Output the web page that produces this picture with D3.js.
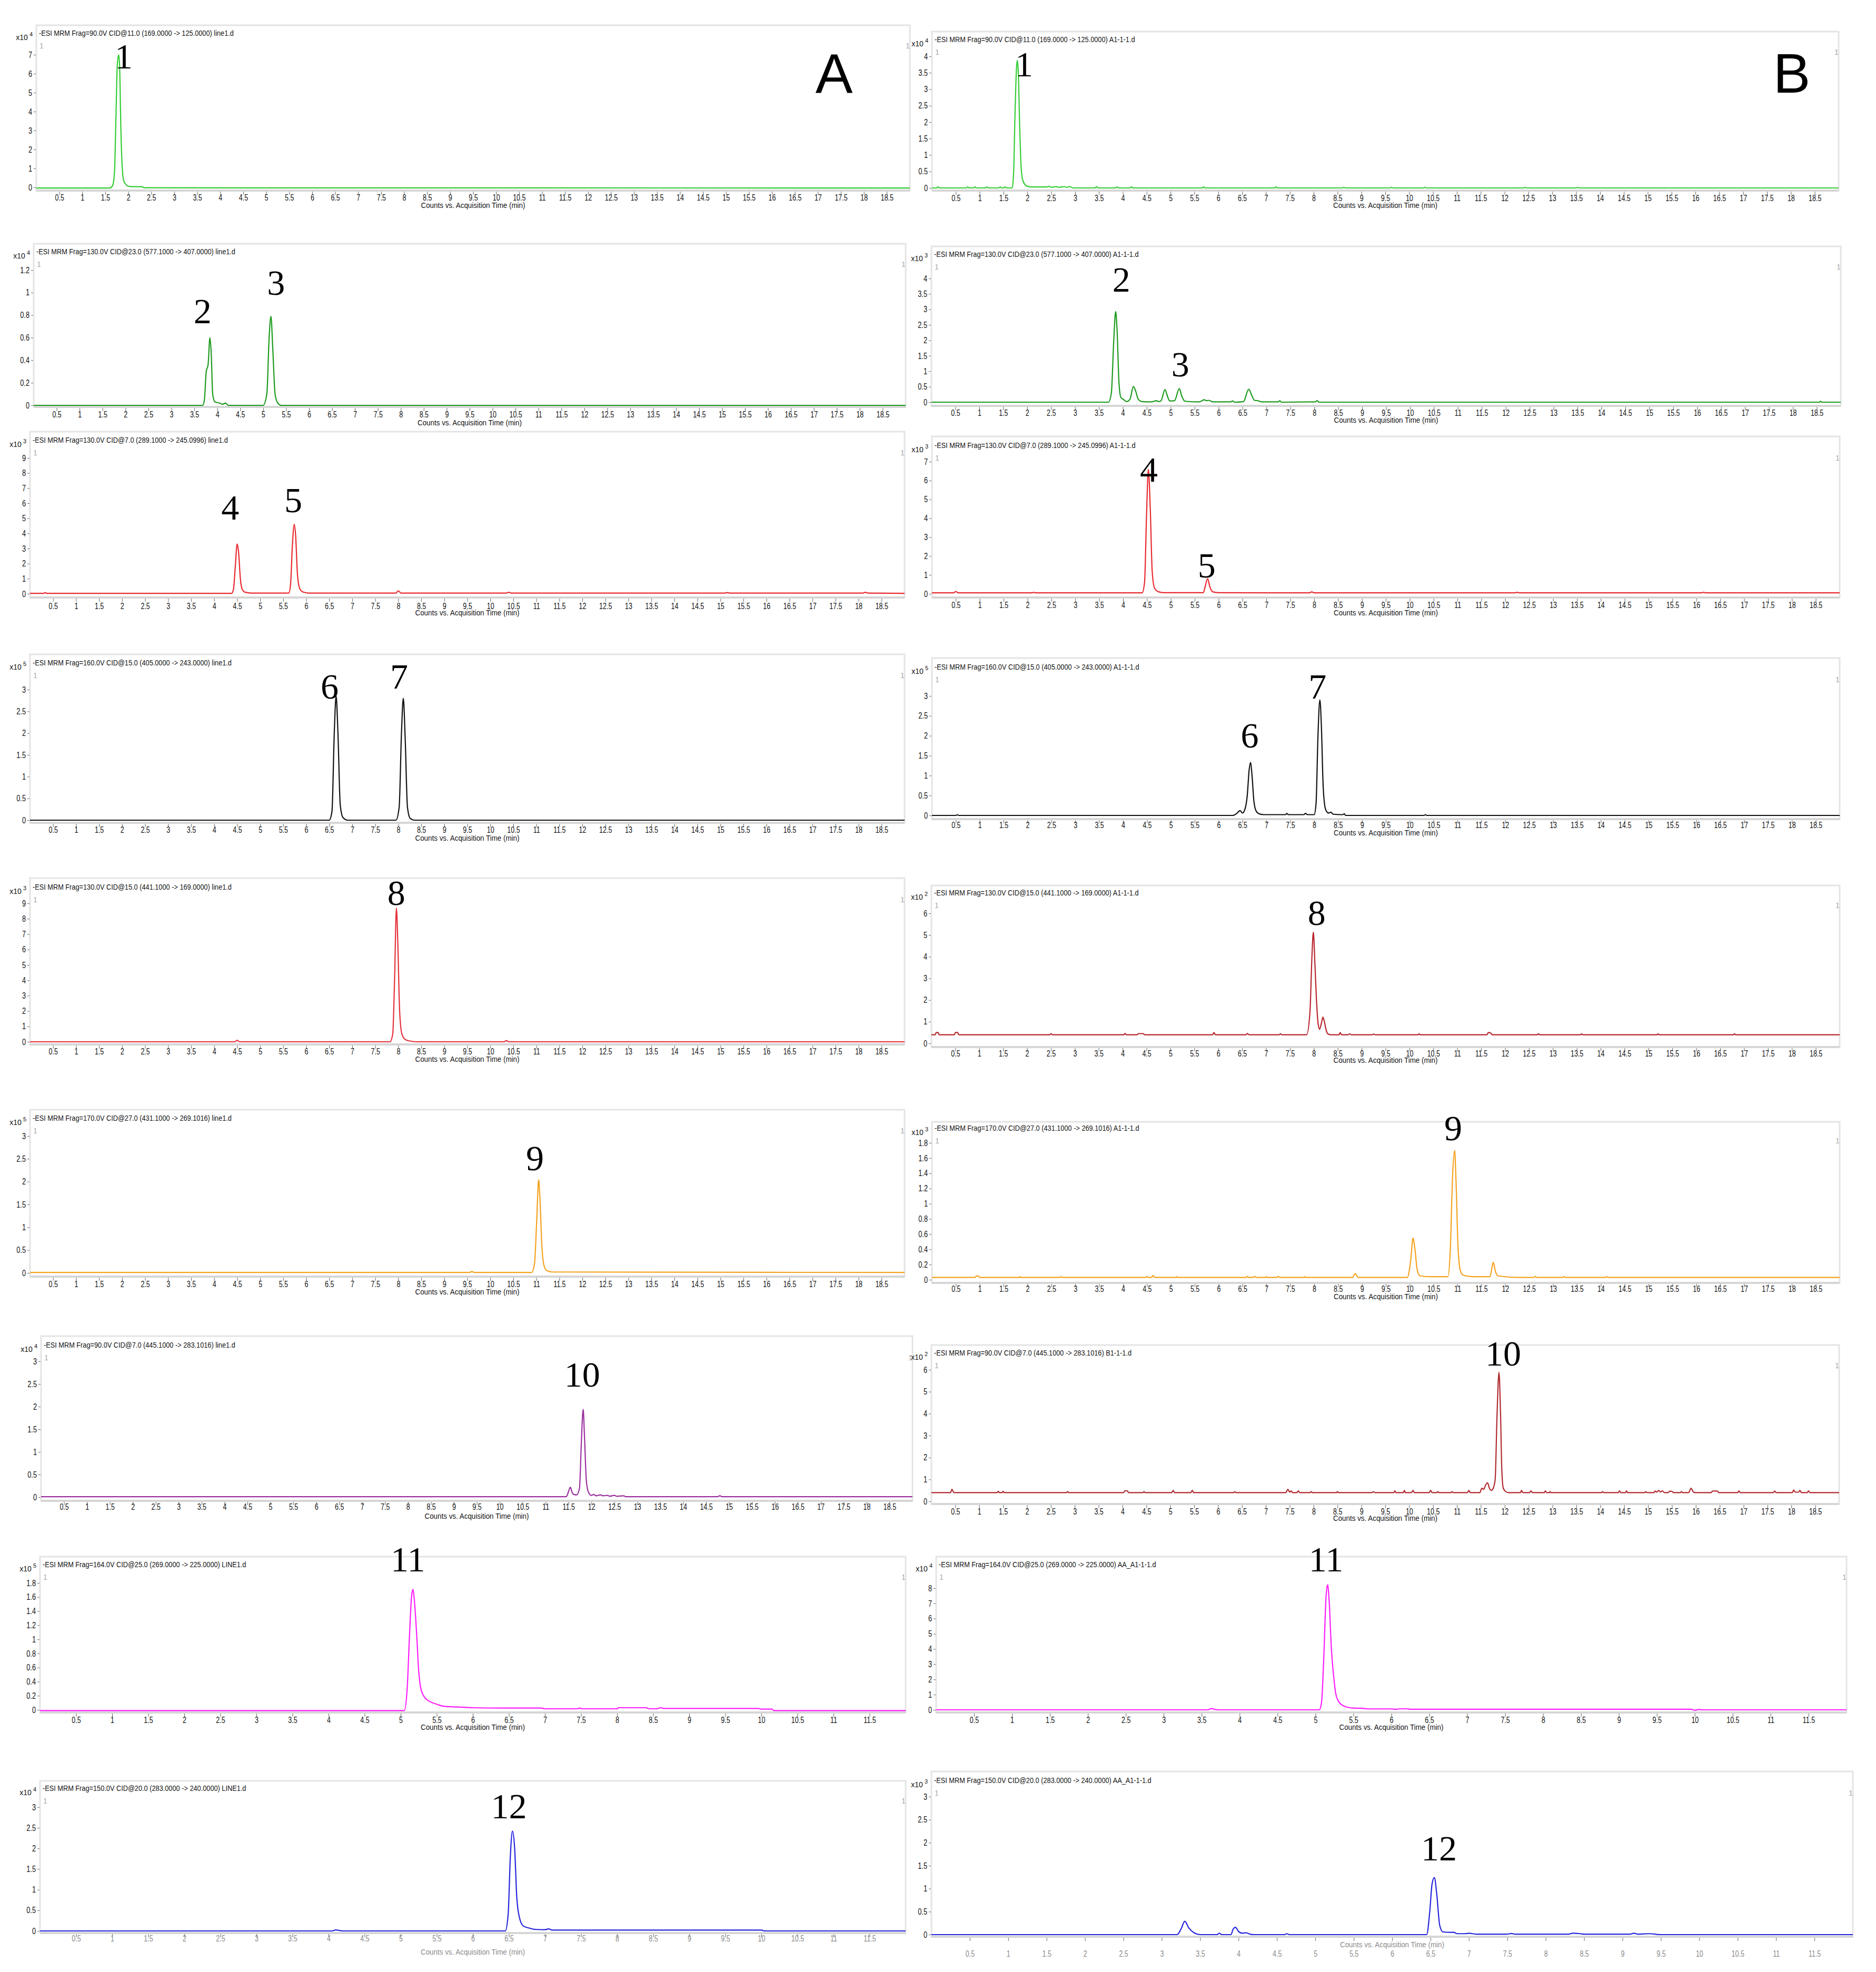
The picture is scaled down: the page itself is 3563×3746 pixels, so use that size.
<!DOCTYPE html>
<html>
<head>
<meta charset="utf-8">
<script src="https://cdn.jsdelivr.net/npm/d3@7"></script>
<style>
  body { margin: 0; background: #fff; }
</style>
</head>
<body>
<script>
// ---------- data ----------
const panelIds = ["A1","B1","A2","B2","A3","B3","A4","B4","A5","B5","A6","B6","A7","B7","A8","B8","A9","B9"];

const headers = [
  "-ESI MRM Frag=90.0V CID@11.0 (169.0000 -> 125.0000) line1.d",
  "-ESI MRM Frag=90.0V CID@11.0 (169.0000 -> 125.0000) A1-1-1.d",
  "-ESI MRM Frag=130.0V CID@23.0 (577.1000 -> 407.0000) line1.d",
  "-ESI MRM Frag=130.0V CID@23.0 (577.1000 -> 407.0000) A1-1-1.d",
  "-ESI MRM Frag=130.0V CID@7.0 (289.1000 -> 245.0996) line1.d",
  "-ESI MRM Frag=130.0V CID@7.0 (289.1000 -> 245.0996) A1-1-1.d",
  "-ESI MRM Frag=160.0V CID@15.0 (405.0000 -> 243.0000) line1.d",
  "-ESI MRM Frag=160.0V CID@15.0 (405.0000 -> 243.0000) A1-1-1.d",
  "-ESI MRM Frag=130.0V CID@15.0 (441.1000 -> 169.0000) line1.d",
  "-ESI MRM Frag=130.0V CID@15.0 (441.1000 -> 169.0000) A1-1-1.d",
  "-ESI MRM Frag=170.0V CID@27.0 (431.1000 -> 269.1016) line1.d",
  "-ESI MRM Frag=170.0V CID@27.0 (431.1000 -> 269.1016) A1-1-1.d",
  "-ESI MRM Frag=90.0V CID@7.0 (445.1000 -> 283.1016) line1.d",
  "-ESI MRM Frag=90.0V CID@7.0 (445.1000 -> 283.1016) B1-1-1.d",
  "-ESI MRM Frag=164.0V CID@25.0 (269.0000 -> 225.0000) LINE1.d",
  "-ESI MRM Frag=164.0V CID@25.0 (269.0000 -> 225.0000) AA_A1-1-1.d",
  "-ESI MRM Frag=150.0V CID@20.0 (283.0000 -> 240.0000) LINE1.d",
  "-ESI MRM Frag=150.0V CID@20.0 (283.0000 -> 240.0000) AA_A1-1-1.d"
];

const exponents = [4,4,4,3,3,3,5,5,3,2,5,3,4,2,5,4,4,3];
const xMaxes = [19,19,19,19,19,19,19,19,19,19,19,19,19,19,12,12,12,12];
const xTitle = "Counts vs. Acquisition Time (min)";

const xTicks19 = [0.5,1,1.5,2,2.5,3,3.5,4,4.5,5,5.5,6,6.5,7,7.5,8,8.5,9,9.5,10,10.5,11,11.5,12,12.5,13,13.5,14,14.5,15,15.5,16,16.5,17,17.5,18,18.5];
const xTicks12 = [0.5,1,1.5,2,2.5,3,3.5,4,4.5,5,5.5,6,6.5,7,7.5,8,8.5,9,9.5,10,10.5,11,11.5];

const yT7 = [0,1,2,3,4,5,6,7];
const yT4h = [0,0.5,1,1.5,2,2.5,3,3.5,4];
const yT12 = [0,0.2,0.4,0.6,0.8,1,1.2];
const yT9 = [0,1,2,3,4,5,6,7,8,9];
const yT3h = [0,0.5,1,1.5,2,2.5,3];
const yT6 = [0,1,2,3,4,5,6];
const yT18 = [0,0.2,0.4,0.6,0.8,1,1.2,1.4,1.6,1.8];
const yT8 = [0,1,2,3,4,5,6,7,8];
const yTickSets = [yT7,yT4h,yT12,yT4h,yT9,yT7,yT3h,yT3h,yT9,yT6,yT3h,yT18,yT3h,yT6,yT18,yT8,yT3h,yT3h];

// traces: [time (min), counts in panel units]
const traceA1 = [[0,-0.03],[1.6,-0.03],[1.66,0.1],[1.7,0.8],[1.73,3.5],[1.76,6.4],[1.79,7.0],[1.81,6.5],[1.84,3.0],[1.87,1.0],[1.9,0.35],[1.95,0.15],[2.0,0.06],[2.1,0.04],[2.3,0.04],[2.34,-0.02],[19,-0.03]];
const traceB1 = [[0,0],[0.1,0],[0.13,0.03],[0.16,0],[0.72,0],[0.75,0.03],[0.78,0],[0.87,0],[0.9,0.03],[0.93,0],[1.12,0],[1.15,0.03],[1.18,0],[1.4,0],[1.43,0.03],[1.46,0],[1.5,0],[1.53,0.03],[1.56,0],[1.68,0],[1.71,0.4],[1.74,2.2],[1.77,3.6],[1.79,3.88],[1.81,3.5],[1.84,1.8],[1.87,0.6],[1.9,0.25],[1.95,0.1],[2.0,0.05],[2.1,0.03],[2.4,0.03],[2.45,0.05],[2.5,0.02],[2.6,0.04],[2.65,0.02],[2.78,0.04],[2.82,0.02],[2.9,0.04],[2.95,0],[3.42,0],[3.45,0.04],[3.48,0],[3.85,0],[3.88,0.03],[3.91,0],[4.15,0],[4.18,0.03],[4.21,0],[5.66,0],[5.69,0.03],[5.72,0],[7.18,0],[7.21,0.03],[7.24,0],[8.6,0],[8.63,0.02],[8.66,0],[9.6,0],[9.63,0.02],[9.66,0],[10.3,0],[10.33,0.02],[10.36,0],[12.4,0],[12.43,0.02],[12.46,0],[13.5,0],[13.53,0.02],[13.56,0],[19,0]];
const traceA2 = [[0,0],[3.68,0],[3.72,0.05],[3.76,0.3],[3.8,0.36],[3.84,0.6],[3.87,0.45],[3.9,0.1],[3.95,0.03],[4.05,0.02],[4.12,0.01],[4.18,0.02],[4.24,0],[5.0,0],[5.08,0.1],[5.13,0.6],[5.17,0.79],[5.21,0.5],[5.26,0.1],[5.32,0.02],[5.4,0],[19,0]];
const traceB2 = [[0,0],[3.7,0],[3.76,0.3],[3.81,2.0],[3.85,2.93],[3.88,2.3],[3.92,0.6],[3.96,0.15],[4.02,0.08],[4.08,0.02],[4.15,0.1],[4.22,0.51],[4.27,0.35],[4.32,0.1],[4.4,0.02],[4.6,0.01],[4.7,0.05],[4.75,0.02],[4.8,0.05],[4.88,0.41],[4.93,0.2],[4.98,0.04],[5.08,0.05],[5.18,0.44],[5.23,0.2],[5.3,0.03],[5.6,0.01],[5.7,0.08],[5.75,0.05],[5.8,0.06],[5.88,0.01],[6.25,0.01],[6.3,0.04],[6.33,0],[6.52,0.02],[6.63,0.42],[6.7,0.2],[6.75,0.06],[6.82,0.05],[6.9,0.01],[7.25,0.01],[7.28,0.05],[7.31,0],[8.02,0.01],[8.06,0.05],[8.1,0],[18.55,0],[18.58,0.03],[18.6,0],[19,0]];
const traceA3 = [[0,0.03],[0.3,0.03],[0.33,0.08],[0.36,0.03],[4.38,0.03],[4.42,0.3],[4.46,1.8],[4.5,3.3],[4.53,2.8],[4.57,1.0],[4.61,0.3],[4.68,0.1],[4.8,0.05],[5.62,0.05],[5.66,0.6],[5.7,3.2],[5.74,4.6],[5.77,3.9],[5.81,1.3],[5.86,0.35],[5.93,0.12],[6.05,0.05],[7.95,0.05],[8.0,0.2],[8.06,0.05],[10.35,0.05],[10.4,0.1],[10.45,0.05],[15.1,0.05],[15.15,0.08],[15.2,0.05],[18.1,0.05],[18.15,0.1],[18.2,0.05],[19,0.03]];
const traceB3 = [[0,0.05],[0.45,0.05],[0.5,0.12],[0.55,0.05],[2.1,0.05],[2.13,0.08],[2.16,0.05],[4.4,0.05],[4.45,0.6],[4.49,4.0],[4.53,6.6],[4.57,4.5],[4.61,1.2],[4.66,0.3],[4.75,0.1],[4.85,0.06],[5.68,0.06],[5.72,0.4],[5.77,0.8],[5.82,0.35],[5.88,0.1],[6.0,0.06],[7.9,0.05],[7.95,0.1],[8.0,0.05],[12.2,0.05],[12.25,0.08],[12.3,0.05],[16.1,0.05],[16.15,0.08],[16.2,0.05],[19,0.05]];
const traceA4 = [[0,0],[6.5,0],[6.56,0.2],[6.61,2.0],[6.65,2.85],[6.69,2.0],[6.74,0.35],[6.8,0.06],[6.9,0],[7.95,0],[8.02,0.3],[8.07,2.0],[8.11,2.8],[8.15,1.9],[8.2,0.3],[8.26,0.04],[8.35,0],[19,0]];
const traceB4 = [[0,0],[0.5,0],[0.53,0.02],[0.56,0],[6.3,0],[6.38,0.05],[6.45,0.12],[6.5,0.06],[6.55,0.15],[6.6,0.5],[6.64,1.15],[6.67,1.33],[6.7,1.0],[6.74,0.35],[6.79,0.1],[6.85,0.04],[6.95,0.02],[7.4,0.02],[7.43,0.05],[7.46,0.02],[7.78,0.02],[7.82,0.05],[7.86,0.02],[8.0,0.02],[8.04,0.3],[8.08,2.0],[8.12,2.9],[8.15,2.3],[8.19,0.7],[8.24,0.15],[8.3,0.06],[8.35,0.08],[8.4,0.03],[8.6,0.02],[8.63,0.04],[8.66,0],[10.3,0],[10.33,0.02],[10.36,0],[19,0]];
const traceA5 = [[0,0],[4.45,0],[4.5,0.1],[4.55,0],[7.82,0],[7.88,0.5],[7.92,4.0],[7.96,8.7],[7.99,6.5],[8.03,2.0],[8.08,0.5],[8.15,0.15],[8.25,0.05],[8.4,0],[10.3,0],[10.35,0.08],[10.4,0],[19,0]];
const traceB5 = [[0,0.4],[0.08,0.4],[0.1,0.5],[0.14,0.5],[0.16,0.4],[0.48,0.4],[0.5,0.5],[0.55,0.5],[0.57,0.4],[2.48,0.4],[2.5,0.45],[2.53,0.4],[4.03,0.4],[4.05,0.46],[4.08,0.4],[4.3,0.4],[4.33,0.45],[4.38,0.45],[4.43,0.45],[4.46,0.4],[5.88,0.4],[5.91,0.5],[5.94,0.4],[6.58,0.4],[6.61,0.46],[6.64,0.4],[7.28,0.4],[7.3,0.44],[7.33,0.4],[7.85,0.4],[7.92,1.5],[7.96,4.0],[7.99,5.13],[8.02,3.8],[8.06,1.8],[8.09,0.9],[8.12,0.65],[8.16,0.95],[8.19,1.21],[8.22,1.0],[8.26,0.6],[8.3,0.43],[8.35,0.4],[8.53,0.4],[8.55,0.5],[8.58,0.4],[8.72,0.4],[8.75,0.44],[8.78,0.4],[9.22,0.4],[9.25,0.43],[9.28,0.4],[10.18,0.4],[10.2,0.45],[10.22,0.4],[11.62,0.4],[11.65,0.5],[11.7,0.48],[11.73,0.4],[12.68,0.4],[12.7,0.45],[12.72,0.4],[13.58,0.4],[13.6,0.44],[13.62,0.4],[15.18,0.4],[15.2,0.44],[15.22,0.4],[16.78,0.4],[16.8,0.44],[16.82,0.4],[19,0.4]];
const traceA6 = [[0,0.01],[9.55,0.01],[9.6,0.03],[9.65,0.01],[10.9,0.01],[10.96,0.2],[11.01,1.2],[11.05,2.04],[11.08,1.6],[11.12,0.6],[11.17,0.15],[11.23,0.05],[11.35,0.02],[19,0.01]];
const traceB6 = [[0,0.03],[0.9,0.03],[0.93,0.05],[0.97,0.05],[1.0,0.03],[1.83,0.03],[1.85,0.04],[1.87,0.03],[2.68,0.03],[2.7,0.04],[2.73,0.03],[4.48,0.03],[4.5,0.045],[4.53,0.03],[4.6,0.03],[4.63,0.055],[4.67,0.03],[5.1,0.03],[5.12,0.04],[5.14,0.03],[6.58,0.03],[6.6,0.045],[6.63,0.03],[6.72,0.03],[6.75,0.045],[6.78,0.03],[6.98,0.03],[7.0,0.04],[7.02,0.03],[7.22,0.03],[7.25,0.045],[7.28,0.03],[7.78,0.03],[7.8,0.04],[7.82,0.03],[8.8,0.03],[8.86,0.08],[8.92,0.03],[9.95,0.03],[10.02,0.25],[10.07,0.55],[10.11,0.4],[10.16,0.12],[10.22,0.05],[10.4,0.04],[10.8,0.04],[10.85,0.4],[10.9,1.4],[10.94,1.7],[10.97,1.3],[11.01,0.45],[11.06,0.12],[11.12,0.06],[11.3,0.04],[11.68,0.04],[11.72,0.15],[11.75,0.23],[11.79,0.12],[11.85,0.05],[12.3,0.03],[12.6,0.03],[12.63,0.045],[12.66,0.03],[13.2,0.03],[13.23,0.04],[13.26,0.03],[14.1,0.03],[14.13,0.04],[14.16,0.03],[19,0.03]];
const traceA7 = [[0,0.01],[11.45,0.01],[11.5,0.12],[11.54,0.22],[11.58,0.1],[11.62,0.06],[11.68,0.05],[11.74,0.2],[11.78,1.2],[11.82,1.94],[11.85,1.3],[11.89,0.35],[11.94,0.1],[12.0,0.04],[12.05,0.06],[12.1,0.03],[12.2,0.05],[12.25,0.03],[12.35,0.04],[12.4,0.02],[12.5,0.04],[12.55,0.02],[12.7,0.03],[12.75,0.01],[14.75,0.01],[14.8,0.03],[14.85,0.01],[19,0.01]];
const traceB7 = [[0,0.4],[0.4,0.4],[0.43,0.55],[0.47,0.4],[1.38,0.4],[1.4,0.46],[1.42,0.4],[1.48,0.4],[1.5,0.46],[1.52,0.4],[2.83,0.4],[2.85,0.45],[2.87,0.4],[4.02,0.4],[4.05,0.48],[4.1,0.48],[4.13,0.4],[4.43,0.4],[4.45,0.45],[4.47,0.4],[5.03,0.4],[5.06,0.5],[5.09,0.4],[5.43,0.4],[5.46,0.5],[5.49,0.4],[6.33,0.4],[6.35,0.45],[6.37,0.4],[7.42,0.4],[7.46,0.55],[7.5,0.42],[7.53,0.48],[7.56,0.4],[7.65,0.4],[7.68,0.48],[7.71,0.4],[7.93,0.4],[7.95,0.45],[7.97,0.4],[8.48,0.4],[8.5,0.44],[8.52,0.4],[9.22,0.4],[9.25,0.44],[9.28,0.4],[9.68,0.4],[9.7,0.48],[9.72,0.4],[9.88,0.4],[9.9,0.5],[9.92,0.4],[10.05,0.4],[10.08,0.5],[10.11,0.4],[10.42,0.4],[10.45,0.5],[10.48,0.4],[10.58,0.4],[10.6,0.45],[10.62,0.4],[10.88,0.4],[10.9,0.45],[10.92,0.4],[11.22,0.4],[11.25,0.5],[11.28,0.4],[11.48,0.4],[11.52,0.6],[11.56,0.55],[11.6,0.75],[11.64,0.85],[11.68,0.6],[11.72,0.5],[11.76,0.6],[11.8,1.0],[11.84,4.0],[11.88,5.88],[11.91,4.2],[11.94,1.4],[11.97,0.6],[12.02,0.45],[12.08,0.4],[12.33,0.4],[12.35,0.5],[12.38,0.4],[12.52,0.4],[12.55,0.48],[12.58,0.4],[12.83,0.4],[12.85,0.48],[12.88,0.4],[12.93,0.4],[12.95,0.44],[12.97,0.4],[14.03,0.4],[14.05,0.45],[14.07,0.4],[14.38,0.4],[14.4,0.48],[14.43,0.4],[14.53,0.4],[14.55,0.48],[14.57,0.4],[14.93,0.4],[14.95,0.44],[14.98,0.4],[15.12,0.4],[15.15,0.47],[15.18,0.42],[15.22,0.5],[15.26,0.43],[15.3,0.48],[15.34,0.4],[15.42,0.4],[15.45,0.46],[15.5,0.46],[15.53,0.4],[15.68,0.4],[15.7,0.45],[15.72,0.4],[15.85,0.4],[15.9,0.6],[15.95,0.42],[16.0,0.4],[16.32,0.4],[16.35,0.47],[16.45,0.47],[16.48,0.4],[16.88,0.4],[16.9,0.48],[16.93,0.4],[17.62,0.4],[17.65,0.47],[17.68,0.4],[18.02,0.4],[18.05,0.52],[18.08,0.42],[18.15,0.42],[18.18,0.5],[18.21,0.4],[18.33,0.4],[18.36,0.48],[18.39,0.4],[19,0.4]];
const traceA8 = [[0,-0.01],[5.05,-0.01],[5.09,0.3],[5.12,1.0],[5.15,1.6],[5.17,1.71],[5.19,1.55],[5.22,1.1],[5.25,0.55],[5.28,0.3],[5.33,0.18],[5.4,0.12],[5.5,0.08],[5.6,0.05],[5.8,0.04],[6.0,0.03],[6.4,0.025],[6.95,0.025],[7.0,0.015],[7.45,0.015],[7.48,0.025],[7.51,0.015],[8.0,0.015],[8.02,0.03],[8.4,0.03],[8.45,0.015],[8.55,0.015],[8.6,0.03],[8.65,0.02],[9.95,0.02],[10.0,0.01],[10.15,0.01],[10.17,-0.01],[12,-0.01]];
const traceB8 = [[0,0],[3.58,0],[3.63,0.08],[3.68,0.02],[3.72,0],[5.05,0],[5.08,0.5],[5.11,3.5],[5.14,7.5],[5.16,8.23],[5.18,7.2],[5.21,4.0],[5.24,2.2],[5.27,1.0],[5.32,0.45],[5.4,0.2],[5.5,0.12],[5.62,0.1],[5.7,0.06],[6.0,0.06],[6.05,0.03],[6.1,0.06],[6.2,0.07],[6.25,0.04],[9.95,0.04],[10.0,-0.03],[10.05,0.02],[10.1,0],[12,0]];
const traceA9 = [[0,0],[4.05,0],[4.1,0.025],[4.15,0.01],[4.2,0],[6.45,0],[6.49,0.4],[6.52,1.8],[6.55,2.42],[6.58,2.0],[6.61,0.8],[6.65,0.3],[6.7,0.12],[6.78,0.07],[6.85,0.04],[7.0,0.03],[7.05,0.05],[7.1,0.02],[10.0,0.02],[10.05,0],[12,0]];
const traceB9 = [[0,0],[3.2,0],[3.25,0.12],[3.3,0.29],[3.35,0.15],[3.42,0.04],[3.5,0],[3.72,0],[3.75,0.03],[3.78,0],[3.9,0],[3.93,0.12],[3.96,0.16],[4.0,0.07],[4.05,0.03],[4.1,0.04],[4.15,0.01],[4.2,0],[4.6,0],[4.63,0.02],[4.66,0],[6.45,0],[6.49,0.5],[6.52,1.1],[6.55,1.24],[6.58,0.9],[6.62,0.2],[6.66,0.06],[6.75,0.05],[6.8,0.05],[6.85,0.02],[6.95,0.02],[7.0,0.03],[7.1,0.01],[7.5,0.01],[7.55,0.025],[7.6,0.01],[8.3,0.01],[8.35,0.03],[8.45,0.02],[8.5,0.01],[9.1,0.01],[9.15,0.03],[9.2,0.01],[9.35,0.02],[9.5,0],[12,0]];
const traces = [traceA1,traceB1,traceA2,traceB2,traceA3,traceB3,traceA4,traceB4,traceA5,traceB5,traceA6,traceB6,traceA7,traceB7,traceA8,traceB8,traceA9,traceB9];

// peak numbers: [panel, text, time, height (panel units)]
const peakLabels = [
  ["A1","1",1.9,6.9], ["B1","1",1.93,3.74],
  ["A2","2",3.68,0.83], ["A2","3",5.28,1.085],
  ["B2","2",3.97,3.95], ["B2","3",5.2,1.21],
  ["A3","4",4.35,5.67], ["A3","5",5.72,6.17],
  ["B3","4",4.54,6.55], ["B3","5",5.75,1.48],
  ["A4","6",6.51,3.06], ["A4","7",8.02,3.29],
  ["B4","6",6.65,2.0], ["B4","7",8.07,3.22],
  ["A5","8",7.96,9.65], ["B5","8",8.06,6.0],
  ["A6","9",10.97,2.5], ["B6","9",10.91,1.99],
  ["A7","10",11.8,2.7], ["B7","10",11.97,6.72],
  ["A8","11",5.1,2.125], ["B8","11",5.14,9.86],
  ["A9","12",6.5,3.01], ["B9","12",6.61,1.87]
];

// ---------- layout (pixels) and style ----------
const layout = {
  A1:{left:69,  right:1728, top:48,   head:63,   y0:356,  yT:104,  axis:362,  tickY:376,  titleY:390},
  B1:{left:1770,right:3492, top:60,   head:75,   y0:357,  yT:107,  axis:362,  tickY:377,  titleY:390},
  A2:{left:64,  right:1720, top:463,  head:478,  y0:770,  yT:513,  axis:773,  tickY:788,  titleY:803},
  B2:{left:1769,right:3496, top:468,  head:483,  y0:764,  yT:529,  axis:771,  tickY:785,  titleY:798},
  A3:{left:57,  right:1718, top:820,  head:836,  y0:1128, yT:870,  axis:1135, tickY:1152, titleY:1164},
  B3:{left:1770,right:3494, top:829,  head:846,  y0:1128, yT:877,  axis:1135, tickY:1150, titleY:1164},
  A4:{left:57,  right:1718, top:1243, head:1259, y0:1558, yT:1310, axis:1563, tickY:1577, titleY:1592},
  B4:{left:1770,right:3494, top:1250, head:1267, y0:1549, yT:1322, axis:1556, tickY:1568, titleY:1582},
  A5:{left:57,  right:1718, top:1668, head:1685, y0:1979, yT:1716, axis:1984, tickY:1998, titleY:2012},
  B5:{left:1769,right:3494, top:1682, head:1696, y0:1982, yT:1735, axis:1989, tickY:2002, titleY:2014},
  A6:{left:57,  right:1718, top:2108, head:2124, y0:2418, yT:2158, axis:2425, tickY:2440, titleY:2454},
  B6:{left:1770,right:3494, top:2131, head:2143, y0:2431, yT:2171, axis:2437, tickY:2449, titleY:2463},
  A7:{left:78,  right:1733, top:2538, head:2555, y0:2844, yT:2586, axis:2851, tickY:2863, titleY:2880},
  B7:{left:1769,right:3493, top:2555, head:2570, y0:2852, yT:2602, axis:2857, tickY:2872, titleY:2884},
  A8:{left:76,  right:1720, top:2957, head:2972, y0:3248, yT:3007, axis:3253, tickY:3268, titleY:3281},
  B8:{left:1778,right:3507, top:2957, head:2972, y0:3248, yT:3017, axis:3253, tickY:3268, titleY:3281},
  A9:{left:76,  right:1720, top:3383, head:3397, y0:3668, yT:3433, axis:3672, tickY:3683, titleY:3708, faded:true},
  B9:{left:1769,right:3519, top:3365, head:3382, y0:3675, yT:3413, axis:3679, tickY:3712, titleY:3694, faded:true}
};
const lineColors = {
  A1:"#33cc33", B1:"#33cc33", A2:"#1c9a1c", B2:"#1c9a1c",
  A3:"#e8292f", B3:"#e8292f", A4:"#111111", B4:"#111111",
  A5:"#e5303a", B5:"#b8262d", A6:"#f5a21e", B6:"#f5a21e",
  A7:"#9b30a0", B7:"#b02a30", A8:"#ff1cff", B8:"#ff1cff",
  A9:"#2424dd", B9:"#2424dd"
};

const SANS = "'Liberation Sans', Arial, sans-serif";
const SERIF = "'Liberation Serif', 'Times New Roman', serif";

function condense(sel, k) {
  sel.each(function() {
    const w = this.getComputedTextLength();
    if (w > 0) d3.select(this).attr("textLength", w * k).attr("lengthAdjust", "spacingAndGlyphs");
  });
}

const svg = d3.select("body").append("svg")
  .attr("width", 3563).attr("height", 3746)
  .style("background", "#fff");

panelIds.forEach((id, i) => {
  const L = layout[id];
  const yt = yTickSets[i];
  const x = d3.scaleLinear().domain([0, xMaxes[i]]).range([L.left, L.right]);
  const y = d3.scaleLinear().domain([0, yt[yt.length - 1]]).range([L.y0, L.yT]);
  const g = svg.append("g");

  // frame
  g.append("rect")
    .attr("x", L.left).attr("y", L.top)
    .attr("width", L.right - L.left).attr("height", L.axis - L.top)
    .attr("fill", "#fff").attr("stroke", "#e4e4e4").attr("stroke-width", 3);
  g.append("line")
    .attr("x1", L.left).attr("x2", L.right).attr("y1", L.axis).attr("y2", L.axis)
    .attr("stroke", "#d6d6d6").attr("stroke-width", 4);

  // header + multiplier
  const hd = g.append("text")
    .attr("x", L.left + 5).attr("y", L.head).attr("dy", "0.35em")
    .attr("font-family", SANS).attr("font-size", 15).attr("fill", "#111")
    .text(headers[i]);
  condense(hd, 0.85);

  const mult = g.append("text")
    .attr("x", L.left - 7).attr("y", L.head + 13)
    .attr("text-anchor", "end")
    .attr("font-family", SANS).attr("font-size", 14).attr("fill", "#111");
  mult.append("tspan").text("x10");
  mult.append("tspan").attr("dx", 3).attr("dy", -7).attr("font-size", 11).text(exponents[i]);

  // little gray trace markers
  g.append("text").attr("x", L.left + 6).attr("y", L.head + 29)
    .attr("font-family", SANS).attr("font-size", 14).attr("fill", "#a8a8a8").text("1");
  g.append("text").attr("x", L.right - 8).attr("y", L.head + 29)
    .attr("font-family", SANS).attr("font-size", 14).attr("fill", "#a8a8a8").text("1");

  // y axis
  const ya = g.append("g").attr("transform", `translate(${L.left - 1},0)`)
    .call(d3.axisLeft(y).tickValues(yt).tickSize(4).tickPadding(3).tickFormat(d3.format("~g")));
  ya.select(".domain").remove();
  ya.attr("font-family", SANS).attr("font-size", 16);
  ya.selectAll("line").attr("stroke", "#666");
  ya.selectAll("text").attr("fill", "#111");
  condense(ya.selectAll("text"), 0.8);

  // x axis
  const xa = g.append("g").attr("transform", `translate(0,${L.axis + 2})`)
    .call(d3.axisBottom(x).tickValues(xMaxes[i] > 12 ? xTicks19 : xTicks12)
      .tickSize(6).tickPadding(L.tickY - L.axis - 14).tickFormat(d3.format("~g")));
  xa.select(".domain").remove();
  xa.attr("font-family", SANS).attr("font-size", 16);
  xa.selectAll("line").attr("stroke", "#666");
  xa.selectAll("text").attr("fill", L.faded ? "#8a8a8a" : "#111");
  condense(xa.selectAll("text"), 0.78);

  g.append("text")
    .attr("x", (L.left + L.right) / 2).attr("y", L.titleY).attr("dy", "0.35em")
    .attr("text-anchor", "middle")
    .attr("font-family", SANS).attr("font-size", 15)
    .attr("fill", L.faded ? "#8a8a8a" : "#111")
    .attr("textLength", 198).attr("lengthAdjust", "spacingAndGlyphs")
    .text(xTitle);

  // trace
  const line = d3.line().x(d => x(d[0])).y(d => y(d[1])).curve(d3.curveMonotoneX);
  g.append("path").datum(traces[i])
    .attr("d", line)
    .attr("fill", "none").attr("stroke", lineColors[id])
    .attr("stroke-width", 2.2).attr("stroke-linejoin", "round");

  // peak numbers
  peakLabels.filter(p => p[0] === id).forEach(p => {
    g.append("text")
      .attr("x", x(p[2])).attr("y", y(p[3]) + 22)
      .attr("text-anchor", "middle")
      .attr("font-family", SERIF).attr("font-size", 68).attr("fill", "#000")
      .text(p[1]);
  });
});

// column letters
svg.append("text").attr("x", 1584).attr("y", 176).attr("text-anchor", "middle")
  .attr("font-family", SANS).attr("font-size", 106).attr("fill", "#000").text("A");
svg.append("text").attr("x", 3403).attr("y", 176).attr("text-anchor", "middle")
  .attr("font-family", SANS).attr("font-size", 106).attr("fill", "#000").text("B");
</script>
</body>
</html>
